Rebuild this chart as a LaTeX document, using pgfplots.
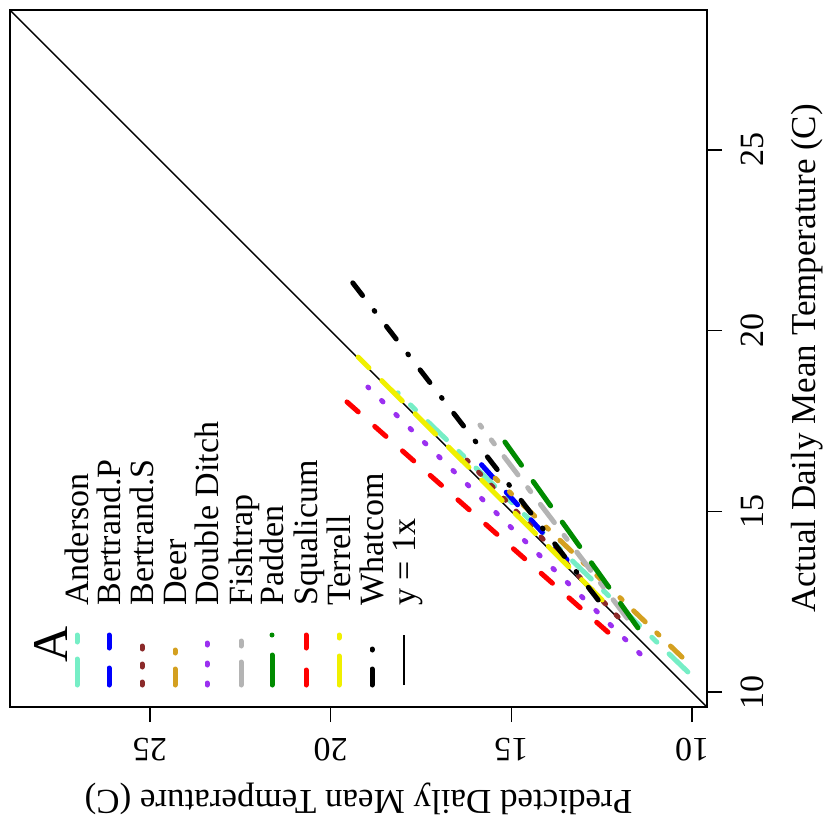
\documentclass[border=0pt]{standalone}
\usepackage{pgfplots}
\pgfplotsset{compat=1.18}
\usepackage{fontspec}
\setmainfont{Liberation Serif}

% station colours
\definecolor{cAnd}{HTML}{76EEC6}
\definecolor{cBeP}{HTML}{0000FF}
\definecolor{cBeS}{HTML}{8B2A2A}
\definecolor{cDeer}{HTML}{D4A020}
\definecolor{cDD}{HTML}{9B30F0}
\definecolor{cFish}{HTML}{B4B4B4}
\definecolor{cPad}{HTML}{008B00}
\definecolor{cSqu}{HTML}{FF0000}
\definecolor{cTer}{HTML}{F0F000}
\definecolor{cWha}{HTML}{000000}

\newcommand\lbl{\fontsize{17.5}{20}\selectfont}
\newcommand\tlbl{\fontsize{17}{19}\selectfont}
\newcommand\leglbl{\fontsize{17}{19}\selectfont}
\newcommand\panelfont{\fontsize{25}{28}\selectfont}

\tikzset{
  st/.style={line width=2.5pt, line cap=round},
  sAnd/.style={st, cAnd,  dash pattern=on 13pt off 8.5pt on 3.5pt off 8.5pt},
  sBeP/.style={st, cBeP,  dash pattern=on 8.5pt off 10pt},
  sBeS/.style={st, cBeS,  dash pattern=on 1.5pt off 7.5pt},
  sDeer/.style={st, cDeer, dash pattern=on 8pt off 8pt on 1.5pt off 8pt},
  sDD/.style={st, cDD,    dash pattern=on 1pt off 9pt},
  sFish/.style={st, cFish, dash pattern=on 11.5pt off 8pt on 2.5pt off 8pt},
  sPad/.style={st, cPad,  dash pattern=on 15pt off 10pt},
  sSqu/.style={st, cSqu,  dash pattern=on 7.5pt off 11pt},
  sTer/.style={st, cTer,  dash pattern=on 14.5pt off 9pt},
  sWha/.style={st, cWha,  dash pattern=on 8pt off 9.5pt on 0.5pt off 9.5pt},
  sOne/.style={black, line width=0.7pt},
}

\begin{document}
\begin{tikzpicture}
\begin{axis}[
  at={(5pt,-5pt)}, anchor=north west,
  scale only axis, width=348.5pt, height=348.5pt,
  xmin=9.59, xmax=28.87, ymin=9.59, ymax=28.87,
  x dir=reverse,
  xtick={10,15,20,25}, ytick={10,15,20,25},
  tick align=outside, major tick length=7.5pt,
  xtick pos=left, ytick pos=right,
  xticklabel pos=left, yticklabel pos=right,
  /pgf/number format/assume math mode=true,
  ticklabel style={font=\tlbl, inner sep=0pt},
  xticklabel style={rotate=180, anchor=base},
  yticklabel style={rotate=90, anchor=base},
  xticklabel shift=8pt, yticklabel shift=20.5pt,
  axis line style={line width=0.75pt},
  every tick/.style={black, line width=0.75pt},
  xlabel={Predicted Daily Mean Temperature (C)},
  ylabel={Actual Daily Mean Temperature (C)},
  label style={font=\lbl, inner sep=0pt},
  xlabel style={at={(axis description cs:0.5,-0.1191)}, anchor=base, rotate=180},
  ylabel style={at={(axis description cs:1.155,0.5)}, anchor=base},
  clip=true,
]
% one-to-one reference line
\addplot[sOne] coordinates {(9.59,9.59) (28.87,28.87)};
% fitted lines per station: (predicted, actual)
\addplot[sAnd]  coordinates {(10.12,10.56) (18.14,18.28)};
\addplot[sBeP]  coordinates {(13.46,13.66) (15.87,16.34)};
\addplot[sBeS]  coordinates {(12.05,12.08) (16.23,16.42)};
\addplot[sDeer] coordinates {(10.28,10.97) (15.45,15.92)};
\addplot[sDD]   coordinates {(11.44,11.06) (18.97,18.44)};
\addplot[sFish] coordinates {(11.80,12.05) (15.87,17.39)};
\addplot[sPad]  coordinates {(11.50,11.78) (15.18,16.92)};
\addplot[sSqu]  coordinates {(12.33,11.66) (19.55,18.03)};
\addplot[sTer]  coordinates {(12.49,12.55) (19.24,19.27)};
\addplot[sWha]  coordinates {(12.60,12.55) (19.41,21.35)};
\end{axis}

% legend, in page units (half points, y downward from the top-left corner)
\begin{scope}[x=0.5pt, y=-0.5pt]
  \node[rotate=90, anchor=base west, font=\panelfont, inner sep=0pt] at (67,663) {A};
  \foreach \xx/\sty/\name in {
      77/sAnd/Anderson, 109/sBeP/Bertrand.P, 142/sBeS/Bertrand.S,
      175/sDeer/Deer, 207/sDD/Double Ditch, 241/sFish/Fishtrap,
      272/sPad/Padden, 306/sSqu/Squalicum, 339/sTer/Terrell,
      372/sWha/Whatcom, 404/sOne/y = 1x} {
    \draw[\sty] (\xx,685) -- (\xx,635);
    \node[rotate=90, anchor=base west, font=\leglbl, inner sep=0pt] at (\xx+11,606) {\name};
  }
  \pgfresetboundingbox
  \path[use as bounding box] (0,0) rectangle (825,825);
\end{scope}
\end{tikzpicture}
\end{document}
